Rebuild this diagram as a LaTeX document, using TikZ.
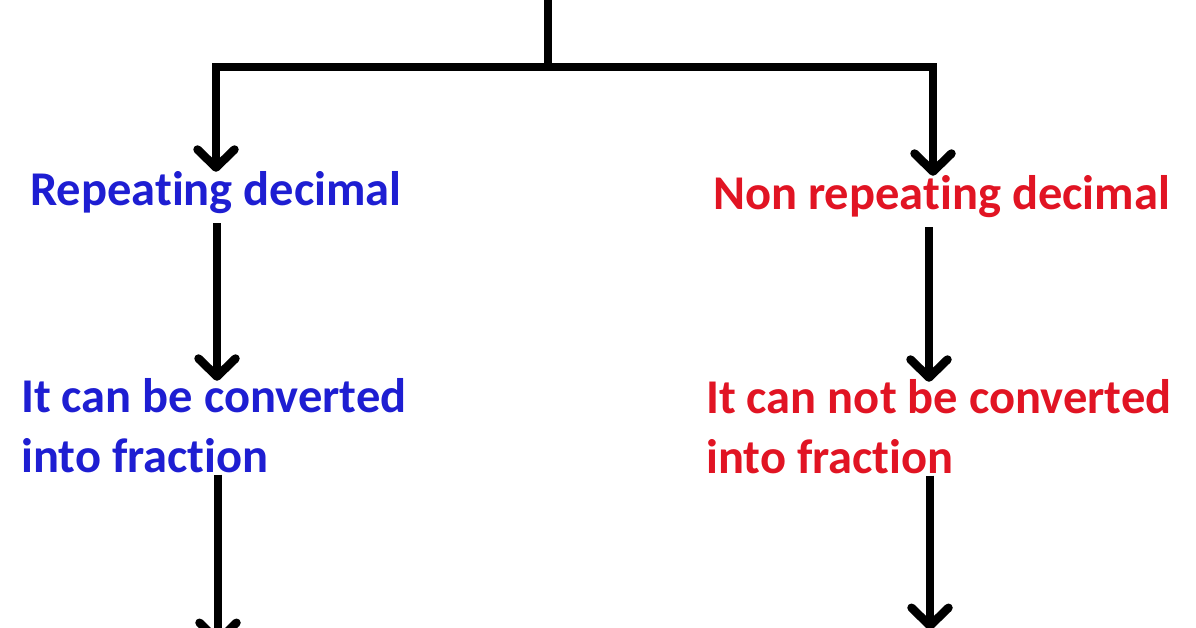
\documentclass[tikz,border=0pt]{standalone}
\usepackage{fontspec}
\setmainfont{Carlito}[Ligatures=NoCommon]
\usetikzlibrary{arrows.meta}
\definecolor{repblue}{RGB}{30,30,210}
\definecolor{nonred}{RGB}{225,20,35}
\begin{document}
\begin{tikzpicture}[x=1pt,y=-1pt,
  conn/.style={line width=8.5pt, draw=black},
  arr/.style={conn, -{Straight Barb[length=18pt,width=37pt,round]}},
  lbl/.style={font=\bfseries\fontsize{48.5}{60}\selectfont, inner sep=0pt, anchor=base west, align=left},
]
\fill[white] (0,0) rectangle (1196,628);
\useasboundingbox (0,0) rectangle (1196,628);
\coordinate (top) at (548,-10);
\coordinate (split) at (548,67);
\coordinate (hl) at (216,67);
\coordinate (hr) at (933,67);
\coordinate (lx) at (217,0);
\coordinate (rx) at (929,0);
\coordinate (lend) at (218,645);
\coordinate (rend) at (930,630);
\node[lbl, text=repblue] (rep) at (30,206) {Repeating decimal};
\node[lbl, text=nonred] (nrep) at (713,210) {Non repeating decimal};
\node[lbl, text=repblue] (conv) at (21,472) {It can be converted\\into fraction};
\node[lbl, text=nonred] (nconv) at (706,473) {It can not be converted\\into fraction};
\draw[conn] (top) -- (split);
\draw[arr] (hr) -- (hl) -- (hl |- rep.north);
\draw[arr] (hl) -- (hr) -- (hr |- nrep.north);
\draw[arr] ([yshift=-9pt]rep.south -| lx) -- ([yshift=-3pt]lx |- conv.north);
\draw[arr] ([yshift=-9pt]nrep.south -| rx) -- ([yshift=-3pt]rx |- nconv.north);
\draw[arr] ([yshift=-2pt]conv.south -| lend) -- (lend);
\draw[arr] ([yshift=-2pt]nconv.south -| rend) -- (rend);
\end{tikzpicture}
\end{document}
